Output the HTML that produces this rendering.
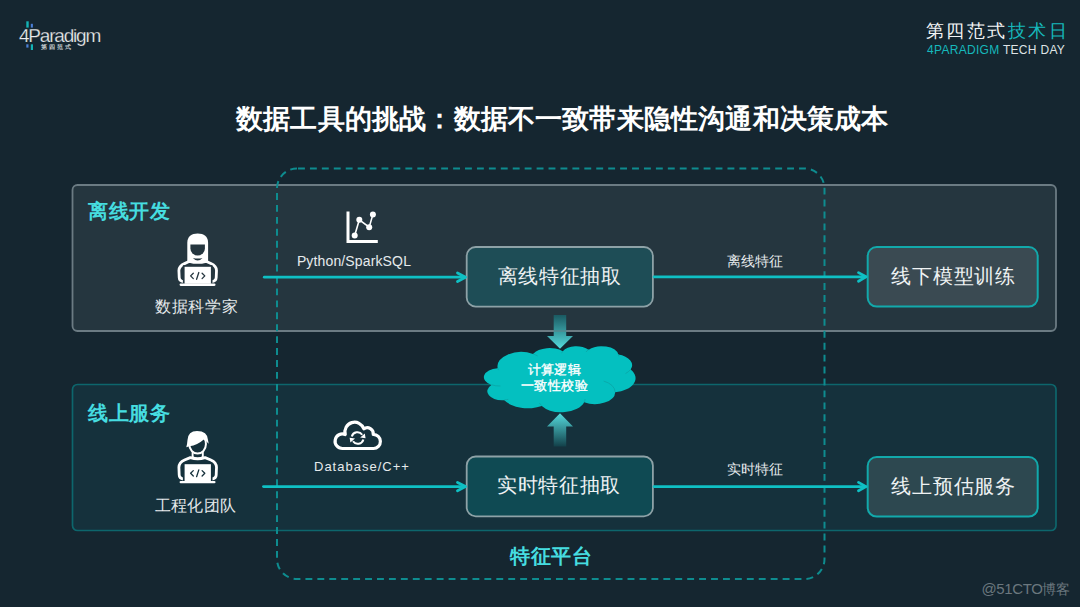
<!DOCTYPE html>
<html><head><meta charset="utf-8">
<style>
html,body{margin:0;padding:0;}
body{width:1080px;height:607px;overflow:hidden;background:#152630;position:relative;font-family:"Liberation Sans",sans-serif;}
.t{position:absolute;white-space:nowrap;line-height:1;}
svg{position:absolute;left:0;top:0;}
</style></head><body>
<svg width="1080" height="607" viewBox="0 0 1080 607">
  <defs>
    <linearGradient id="gdown" x1="0" y1="0" x2="0" y2="1">
      <stop offset="0" stop-color="#1a5a62"/>
      <stop offset="1" stop-color="#55dcde"/>
    </linearGradient>
    <linearGradient id="gup" x1="0" y1="1" x2="0" y2="0">
      <stop offset="0" stop-color="#13414a"/>
      <stop offset="1" stop-color="#55dcde"/>
    </linearGradient>
  </defs>
  <!-- panels -->
  <rect x="72.5" y="185" width="983.5" height="146" rx="5" fill="#25363f" stroke="#6b7b83" stroke-width="1.8"/>
  <rect x="72.5" y="384.5" width="983.5" height="146" rx="5" fill="#15313c" stroke="#0d666c" stroke-width="1.7"/>
  <!-- dashed platform -->
  <rect x="277" y="168.5" width="547.5" height="410.5" rx="20" fill="none" stroke="#0e8c8f" stroke-width="2" stroke-dasharray="6.9 5.03" stroke-dashoffset="-1"/>
  <!-- boxes -->
  <rect x="466.7" y="247" width="186.2" height="59.6" rx="9" fill="#1e4d56" stroke="#8ea2a7" stroke-width="1.8"/>
  <rect x="867.7" y="247" width="170" height="59.6" rx="9" fill="#3a4a52" stroke="#12a9ab" stroke-width="2"/>
  <rect x="466.7" y="456.5" width="186.2" height="59.8" rx="9" fill="#0f4a53" stroke="#8ea2a7" stroke-width="1.8"/>
  <rect x="867.7" y="457" width="170" height="59.6" rx="9" fill="#2d4850" stroke="#12a9ab" stroke-width="2"/>
  <!-- horizontal arrows -->
  <g stroke="#0fc0c4" stroke-width="2.8" fill="none" stroke-linecap="round" stroke-linejoin="round">
    <path d="M264.3 277.2H465"/><path d="M457.5 273L465.5 277.2L457.5 281.5"/>
    <path d="M654 276.8H865.5"/><path d="M858.5 272.6L866 276.8L858.5 281.2"/>
    <path d="M263.5 486.6H465"/><path d="M457.5 482.4L465.5 486.6L457.5 490.8"/>
    <path d="M654 486.6H865.5"/><path d="M858.5 482.4L866 486.6L858.5 490.8"/>
  </g>
  <!-- vertical arrows -->
  <path d="M553.7 315H566.2V336H573L560 348.8L547 336H553.7Z" fill="url(#gdown)"/>
  <path d="M553 331H567" stroke="#6b7b83" stroke-width="1.8" opacity="0.45"/>
  <path d="M553.7 446.4H566.2V426.6H573L560 413.2L547 426.6H553.7Z" fill="url(#gup)"/>
  <!-- cloud -->
  <path d="M497.68 367.95A23.68 14.04 0 0 1 533.12 353.95A18.70 11.10 0 0 1 562.75 351.24A15.31 9.08 0 0 1 588.62 349.79A17.03 10.08 0 0 1 618.38 354.52A18.70 11.11 0 0 1 630.65 369.62A23.76 14.09 0 0 1 615.17 392.14A20.29 12.02 0 0 1 584.14 402.24A23.68 14.08 0 0 1 541.80 405.99A27.07 16.11 0 0 1 504.36 400.19A15.29 9.04 0 0 1 491.41 385.03A15.24 9.08 0 0 1 497.55 368.16Z" fill="#04c0c0"/>
  <path d="M500.46 385.99A15.24 9.08 0 0 1 491.57 384.77M508.30 399.32A15.29 9.04 0 0 1 504.41 399.90M541.79 405.72A23.68 14.08 0 0 1 539.45 403.06M585.09 399.09A23.68 14.08 0 0 1 584.16 402.01M603.69 381.07A20.29 12.02 0 0 1 615.09 391.97M630.58 369.46A18.70 11.11 0 0 1 625.51 373.55M618.40 354.29A17.03 10.08 0 0 1 618.67 356.22M585.97 352.04A17.03 10.08 0 0 1 588.58 349.58M561.65 353.21A15.31 9.08 0 0 1 562.91 351.09M533.10 353.93A23.68 14.04 0 0 1 537.66 355.99M498.47 370.12A23.68 14.04 0 0 1 497.68 367.95" fill="none" stroke="#0aa4a6" stroke-width="0.8"/>

  <!-- female icon -->
  <g>
    <path d="M187.3 261V242.8C187.3 236.6 191.5 233.6 197.7 233.6C203.9 233.6 208.1 236.6 208.1 242.8V261Z" fill="#fff"/>
    <path d="M190.4 244.6H204.9V248.6A7.25 7 0 0 1 190.4 248.6Z" fill="#25363f"/>
    <path d="M183.4 281.6Q179.3 281 179.2 277.5L178.9 270.5Q179 266 184.5 263.6L189.5 261.3Q197.7 263.6 205.9 261.3L210.9 263.6Q216.4 266 216.5 270.5L216.2 277.5Q216.1 281 212 281.6" fill="none" stroke="#fff" stroke-width="2.8" stroke-linecap="round" stroke-linejoin="round"/>
    <path d="M192.9 257.9Q197.7 259.2 202.5 257.9Q197.7 263 192.9 257.9Z" fill="#25363f"/>
    <rect x="182.9" y="265.2" width="29.6" height="18.6" fill="#25363f"/>
    <rect x="184.6" y="266.8" width="26.3" height="17" fill="#fff"/>
    <rect x="179.6" y="283.5" width="35.9" height="2.4" rx="1.1" fill="#fff"/>
    <path d="M193.3 273.2L190.6 275.9L193.3 278.6M196.6 279.3L198.8 272.5M202.1 273.2L204.8 275.9L202.1 278.6" fill="none" stroke="#25363f" stroke-width="1.3" stroke-linecap="round" stroke-linejoin="round"/>
  </g>
  <!-- male icon -->
  <g>
    <path d="M192.6 449V457.2Q197.7 459.8 202.8 457.2V449" fill="#15303b" stroke="#fff" stroke-width="1.9"/>
    <ellipse cx="197.6" cy="444" rx="8.35" ry="9.6" fill="#15303b" stroke="#fff" stroke-width="2"/>
    <path d="M186.3 447.2Q187.2 444 187.5 440Q188 431 197 431Q207.5 431 208 440L208.7 443.8Q206.5 441 203.8 439.4Q197.5 445 189.5 446.2Z" fill="#fff"/>
    <path d="M183.4 479Q179.3 478.4 179.2 474.9L178.9 467.4Q179 462.4 184.5 460L190.3 457.6Q197.7 460 205.1 457.6L210.9 460Q216.4 462.4 216.5 467.4L216.2 474.9Q216.1 478.4 212 479" fill="none" stroke="#fff" stroke-width="2.8" stroke-linecap="round" stroke-linejoin="round"/>
        <rect x="182.9" y="462.6" width="29.6" height="18.6" fill="#15303b"/>
    <rect x="184.6" y="464.2" width="26.3" height="17" fill="#fff"/>
    <rect x="179.6" y="480.9" width="35.9" height="2.4" rx="1.1" fill="#fff"/>
    <path d="M193.3 470.6L190.6 473.3L193.3 476M196.6 476.7L198.8 469.9M202.1 470.6L204.8 473.3L202.1 476" fill="none" stroke="#15303b" stroke-width="1.3" stroke-linecap="round" stroke-linejoin="round"/>
  </g>
  <!-- chart icon -->
  <g fill="#fff">
    <path d="M348 211.5V241.4H377.8" fill="none" stroke="#fff" stroke-width="3"/>
    <path d="M354.7 235.4L359.3 219.8L369.2 227.2L372.9 214.4" fill="none" stroke="#fff" stroke-width="1.6"/>
    <circle cx="354.7" cy="235.4" r="3"/><circle cx="359.3" cy="219.8" r="3"/><circle cx="369.2" cy="227.2" r="3"/><circle cx="372.9" cy="214.4" r="3"/>
  </g>
  <!-- cloud sync icon -->
  <g fill="none" stroke="#fff" stroke-width="3.2" stroke-linejoin="round">
    <path d="M342.40 448.50A7.30 7.30 0 1 1 345.25 434.48A9.70 9.70 0 0 1 363.80 428.83A6.00 6.00 0 0 1 373.25 434.50A7.00 7.00 0 1 1 373.50 448.50Z"/>
  </g>
  <g fill="none" stroke="#fff" stroke-width="2">
    <path d="M351.8 436.6A5.8 5.8 0 0 1 362.2 434.8"/>
    <path d="M363.4 439.4A5.8 5.8 0 0 1 353 441.2"/>
  </g>
  <path d="M364.8 433.5L360.2 437.6L365.6 438.2Z" fill="#fff"/>
  <path d="M350.4 442.5L355 438.4L349.6 437.8Z" fill="#fff"/>
  <!-- logo -->
  <rect x="26.3" y="21.3" width="2.4" height="6.3" fill="#14b3b5"/>
  <rect x="30.8" y="23.8" width="2.1" height="3.8" fill="#4a7fd6"/>
  <rect x="26.3" y="44.3" width="2.2" height="3.3" fill="#4a7fd6"/>
  <rect x="30.8" y="44.3" width="2.2" height="5.7" fill="#14b3b5"/>
</svg>

<!-- header -->
<div class="t" style="left:236px;top:106px;font-size:27px;letter-spacing:0.19px;font-weight:bold;color:#fff;">数据工具的挑战：数据不一致带来隐性沟通和决策成本</div>

<div class="t" style="left:88px;top:200.7px;font-size:20px;letter-spacing:0.5px;font-weight:bold;color:#46dde0;">离线开发</div>
<div class="t" style="left:88px;top:403px;font-size:20px;letter-spacing:0.5px;font-weight:bold;color:#46dde0;">线上服务</div>
<div class="t" style="left:510px;top:546px;font-size:20px;letter-spacing:0.6px;font-weight:bold;color:#46dde0;">特征平台</div>

<div class="t" style="left:497.8px;top:265.5px;font-size:20px;letter-spacing:0.66px;color:#eef2f3;">离线特征抽取</div>
<div class="t" style="left:891.3px;top:266px;font-size:20px;letter-spacing:0.8px;color:#eef2f3;">线下模型训练</div>
<div class="t" style="left:497px;top:475px;font-size:20px;letter-spacing:0.66px;color:#eef2f3;">实时特征抽取</div>
<div class="t" style="left:891.3px;top:475.5px;font-size:20px;letter-spacing:0.8px;color:#eef2f3;">线上预估服务</div>

<div class="t" style="left:296.9px;top:254px;font-size:14px;letter-spacing:0.14px;color:#e6eaec;">Python/SparkSQL</div>
<div class="t" style="left:314px;top:460px;font-size:13px;letter-spacing:1px;color:#e6eaec;">Database/C++</div>
<div class="t" style="left:155px;top:298.5px;font-size:16px;letter-spacing:0.67px;color:#e6eaec;">数据科学家</div>
<div class="t" style="left:154.5px;top:497.5px;font-size:16px;letter-spacing:0.45px;color:#e6eaec;">工程化团队</div>
<div class="t" style="left:727px;top:253.5px;font-size:14px;color:#e6eaec;">离线特征</div>
<div class="t" style="left:727px;top:462.2px;font-size:14px;color:#e6eaec;">实时特征</div>

<div class="t" style="left:514.5px;top:361.5px;font-size:13px;letter-spacing:0.45px;-webkit-text-stroke:0.35px #fff;color:#fff;text-align:center;width:80px;line-height:16.3px;">计算逻辑<br>一致性校验</div>

<div class="t" style="left:981.5px;top:580.8px;font-size:15px;letter-spacing:-0.4px;color:#6b777e;">@51CTO<span style="font-size:14px;letter-spacing:-0.2px">博客</span></div>

<div class="t" style="left:925.5px;top:21.5px;font-size:18px;letter-spacing:2.5px;color:#f2f4f5;">第四范式<span style="color:#16b8bc">技术日</span></div>
<div class="t" style="left:927px;top:44px;font-size:12px;letter-spacing:0.3px;color:#dfe3e5;"><span style="color:#16b8bc">4PARADIGM</span> TECH DAY</div>

<div class="t" style="left:19px;top:26px;font-size:19px;letter-spacing:-1.2px;color:#eceeef;-webkit-text-stroke:0.25px #152630;">4Paradigm</div>
<div class="t" style="left:41px;top:44px;font-size:6px;letter-spacing:2px;font-weight:bold;color:#c9cfd2;">第四范式</div>
</body></html>
